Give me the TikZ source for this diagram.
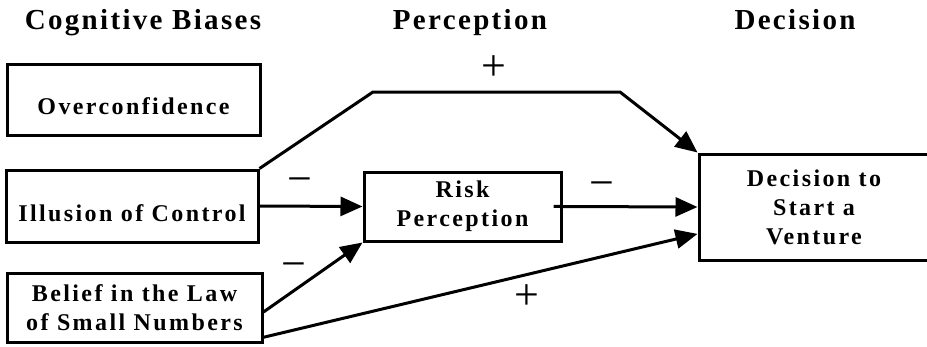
\documentclass[tikz,border=0pt]{standalone}
\usepackage{fontspec}
\setmainfont{Liberation Serif}
\newfontfamily\boxfont[LetterSpace=10]{Liberation Serif}
\newfontfamily\headfont[LetterSpace=8]{Liberation Serif}
\usetikzlibrary{arrows.meta}

\begin{document}
\begin{tikzpicture}[x=1pt,y=-1pt,
  box/.style={draw,line width=3pt,align=center,inner sep=0pt,
    font=\boxfont\bfseries\fontsize{24}{29}\selectfont},
  onebox/.style={box,text height=30pt,text depth=0pt},
  head/.style={anchor=base,font=\headfont\bfseries\fontsize{29}{29}\selectfont},
  sgn/.style={inner sep=0pt,text height=22pt,text depth=0pt,font=\fontsize{44}{44}\selectfont},
  arr/.style={line width=3pt,-{Triangle[length=22pt,width=19pt]}}]
\useasboundingbox (0,0) rectangle (927,346);
\clip (0,0) rectangle (927,346);

\node[head] (hbias) at (143,29) {Cognitive Biases};
\node[head] (hperc) at (470,29) {Perception};
\node[head] (hdec) at (795,29) {Decision};

\node[onebox,minimum width=253pt,minimum height=71pt] (over) at (133.5,99.5) {Overconfidence};
\node[onebox,minimum width=252pt,minimum height=72pt] (ill) at (132,206) {Illusion of Control};
\node[box,minimum width=255pt,minimum height=69pt] (bel) at (134.5,307.5) {Belief in the Law\\of Small Numbers};
\node[box,minimum width=197pt,minimum height=69pt] (risk) at (462.5,206.5) {Risk\\Perception};
\node[box,minimum width=230pt,minimum height=106pt] (dec) at (814,207) {Decision to\\Start a\\Venture};

\draw[arr] (ill.north east) -- (373,92) -- (620,92) -- (dec.north west);
\draw[arr] (ill.east) -- (risk.west);
\draw[arr,shorten <=-9pt] (risk.east) -- (dec.west);
\draw[arr] (bel.-2) -- (risk.south west);
\draw[arr] (bel.-13) -- (dec.193);

\node[sgn] (plustop) at (494,69) {+};
\node[sgn] (minill) at (300,182) {−};
\node[sgn] (minrisk) at (602,186) {−};
\node[sgn] (minbel) at (294,267) {−};
\node[sgn] (plusbel) at (527,298) {+};
\end{tikzpicture}
\end{document}
